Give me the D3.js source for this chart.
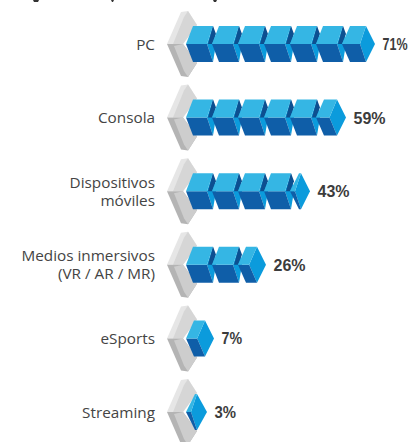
<!DOCTYPE html>
<html><head><meta charset="utf-8">
<script src="https://cdnjs.cloudflare.com/ajax/libs/d3/7.8.5/d3.min.js"></script>
<style>html,body{margin:0;padding:0;background:#fff}svg{display:block}</style>
</head><body><svg id="c" width="409" height="442"></svg>
<script>
const categories = [["PC"],["Consola"],["Dispositivos","móviles"],["Medios inmersivos","(VR / AR / MR)"],["eSports"],["Streaming"]];
const values = [71,59,43,26,7,3];
const cubeCounts = [7,6,5,3,1,1];
const tipDomain = [3,7,26,43,59,71];
const tipRange = [207,214,266,310,346,375];

const svg = d3.select("#c");
const y = d3.scalePoint().domain(d3.range(categories.length)).range([44,412]);
const tip = d3.scaleLinear().domain(tipDomain).range(tipRange);
const innerScale = d3.scaleLinear().domain([21,29,33]).range([5,12,18]).clamp(true);
const startX = 186, pitch = 26, halfH = 18;
const line = d3.line();
const C = {top:"#35b6e4",dark:"#0f5ea8",right:"#0b9bdc",shadow:"#0d4f90",plateA:"#e6e6e6",plateB:"#d6d6d6",plateC:"#b4b4b4",plateD:"#cdcdcd"};
const glyphW = {"7":9.5,"1":4.5,"%":11};

// cut-off descenders of the cropped heading
[[33,39],[111,114],[213,217]].forEach(d=>svg.append("path").attr("d",line([[d[0],0],[d[1],0],[d[1]-1,2],[d[0]+1,2]])+"Z").attr("fill","#333"));

function plate(g){
  const f=(pts,c)=>g.append("path").attr("d",line(pts)+"Z").attr("fill",c);
  f([[-19,0],[-5,-32],[2,-33],[11,-19],[-3,0]],C.plateA);
  f([[-13,0],[-2,-27],[2,-33],[11,-19],[-3,0]],C.plateB);
  f([[-19,0],[-3,0],[11,19],[2,33],[-5,32]],C.plateC);
  f([[-3,0],[11,19],[2,33],[-2,27],[-12,2]],C.plateD);
}
function cube(g,x0,w,isLast){
  const narrow = isLast && w<=23;
  const tl = narrow ? 9 : (isLast ? 8 : 7), tr = narrow ? 11 : (isLast ? w-9 : 27);
  const ix = isLast ? innerScale(w) : 21;
  const f=(pts,c)=>g.append("path").attr("d",line(pts.map(p=>[x0+p[0],p[1]]))+"Z").attr("fill",c);
  f([[ix,0],[tr,-halfH],[w,0],[tr,halfH]],C.right);
  f([[0,0],[ix,0],[tr,halfH],[tl,halfH]],C.dark);
  f([[0,0],[tl,-halfH],[tr,-halfH],[ix,0]],C.top);
  if(!isLast) f([[ix+1,0],[tr,-halfH],[tr+3,-10],[26,0]],C.shadow);
}
values.forEach((v,i)=>{
  const g = svg.append("g").attr("transform",`translate(0,${y(i)})`);
  plate(g.append("g").attr("transform",`translate(186,0)`));
  const n = cubeCounts[i];
  for(let k=0;k<n;k++){
    const x0 = startX+k*pitch;
    const last = k===n-1;
    cube(g,x0,last?tip(v)-x0:30,last);
  }
  const s = v+"%";
  g.append("text").attr("x",tip(v)+7.5).attr("y",6)
    .attr("font-family","'Liberation Sans'").attr("font-weight",700).attr("font-size",16)
    .attr("textLength",d3.sum(s,c=>glyphW[c]||10.5)).attr("lengthAdjust","spacingAndGlyphs")
    .attr("fill","#3c3c3c").text(s);
  const lines = categories[i];
  lines.forEach((t,j)=>{
    g.append("text").attr("x",155).attr("y",5.5+(j-(lines.length-1)/2)*18)
     .attr("text-anchor","end").attr("font-family","'Open Sans'").attr("font-size",15.3)
     .attr("fill","#444").text(t);
  });
});
</script></body></html>
